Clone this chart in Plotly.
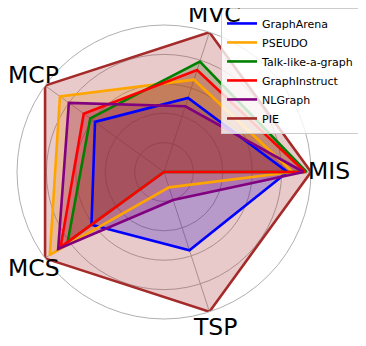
import plotly.graph_objects as go

tasks = ["MIS", "MVC", "MCP", "MCS", "TSP"]

names = ["GraphArena", "PSEUDO", "Talk-like-a-graph", "GraphInstruct", "NLGraph", "PIE"]
graph_arena = [0.84, 0.53, 0.58, 0.61, 0.56]
pseudo = [0.875, 0.66, 0.875, 0.96, 0.11]
talk_like_a_graph = [0.97, 0.79, 0.62, 0.81, 0.0]
graph_instruct = [0.96, 0.73, 0.675, 0.87, 0.0]
nl_graph = [0.95, 0.47, 0.80, 0.89, 0.20]
pie = [1.0, 1.0, 1.0, 1.0, 1.0]

series = [graph_arena, pseudo, talk_like_a_graph, graph_instruct, nl_graph, pie]
colors = ["#0000ff", "#ffa500", "#008000", "#ff0000", "#800080", "#a52a2a"]
fills = ["rgba(0,0,255,0.25)", "rgba(255,165,0,0.25)", "rgba(0,128,0,0.25)",
         "rgba(255,0,0,0.25)", "rgba(128,0,128,0.25)", "rgba(165,42,42,0.25)"]

# where matplotlib put the category labels (paper coords), they sit closer in than plotly's
label_pos = [(1.061, 0.503), (0.673, 1.037), (0.057, 0.830), (0.059, 0.173), (0.673, -0.027)]

fig = go.Figure()

# fills go underneath every line, like matplotlib's zorder
for vals, fc in zip(series, fills):
    fig.add_trace(go.Scatterpolar(
        r=vals + vals[:1], theta=tasks + tasks[:1],
        mode="lines", fill="toself", fillcolor=fc,
        line=dict(width=0, color=fc), showlegend=False, hoverinfo="skip"))

for name, vals, c in zip(names, series, colors):
    fig.add_trace(go.Scatterpolar(
        r=vals + vals[:1], theta=tasks + tasks[:1],
        mode="lines", name=name, line=dict(color=c, width=2.6)))

for t, (px, py) in zip(tasks, label_pos):
    fig.add_annotation(text=t, x=px, y=py, xref="paper", yref="paper",
                       xanchor="center", yanchor="middle", showarrow=False,
                       font=dict(size=23.5, color="black"))

# page body has an 8px margin, so the figure is 8px smaller and shifted
fig.update_layout(
    width=358, height=338,
    margin=dict(l=9, r=55, t=17, b=27, autoexpand=False),
    paper_bgcolor="white",
    font=dict(family="DejaVu Sans", color="black"),
    polar=dict(
        domain=dict(x=[0, 1], y=[0, 1]),
        bgcolor="white",
        radialaxis=dict(range=[0, 1], tickvals=[0.2, 0.4, 0.6, 0.8, 1.0],
                        showticklabels=False, ticks="", showline=False,
                        gridcolor="#b0b0b0", gridwidth=1),
        angularaxis=dict(rotation=0, direction="counterclockwise",
                         gridcolor="#b0b0b0", showline=True, linecolor="#b0b0b0",
                         linewidth=1, ticks="", showticklabels=False),
    ),
    legend=dict(x=0.694, y=1.058, xanchor="left", yanchor="top",
                bgcolor="rgba(255,255,255,0.8)", bordercolor="#cccccc", borderwidth=1,
                font=dict(size=11), tracegroupgap=0),
)

fig.write_html("out.html")
